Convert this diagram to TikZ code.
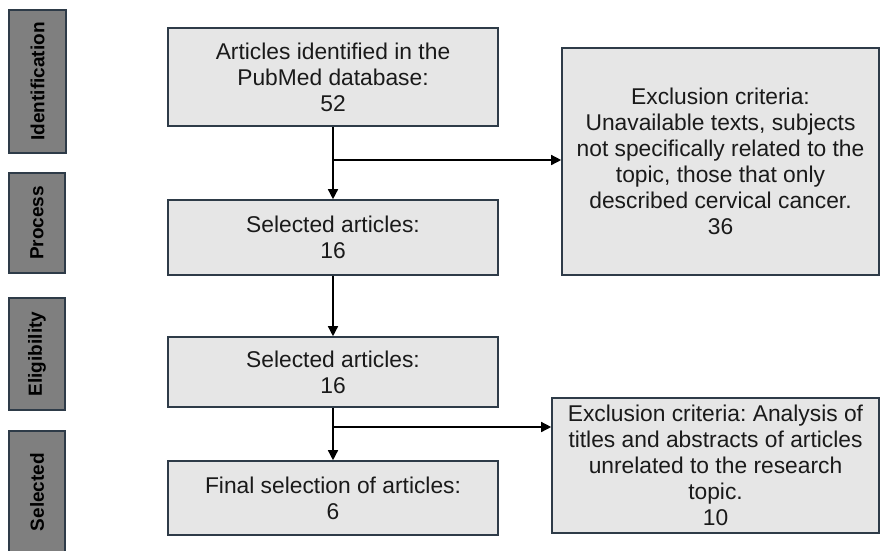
\documentclass[tikz,border=0pt]{standalone}
\usepackage{fontspec}
\setmainfont{Liberation Sans}
\usetikzlibrary{arrows.meta}
\definecolor{edge}{HTML}{2E3B48}
\definecolor{boxfill}{HTML}{E6E6E6}
\definecolor{sidefill}{HTML}{7F7F7F}
\definecolor{ink}{HTML}{1A1A1A}
\frenchspacing
\begin{document}
\begin{tikzpicture}[x=1pt,y=1pt,
  mainbox/.style={draw=edge,line width=1.6pt,fill=boxfill,text=ink,align=center,
    font=\fontsize{22.8}{26}\selectfont,inner sep=1pt},
  sidebox/.style={draw=edge,line width=1.4pt,fill=sidefill,text=black,
    font=\fontsize{19}{22}\selectfont\bfseries,rotate=90,inner sep=0pt},
  flow/.style={line width=1.4pt,draw=black,-{Triangle[length=10pt,width=10pt]}},
  plain/.style={line width=1.4pt,draw=black}]
\useasboundingbox (0,0) rectangle (880,-550);
% side labels
\node[sidebox,minimum width=143,minimum height=57] (sid) at (37.5,-81.5) {Identification};
\node[sidebox,minimum width=100,minimum height=56] (spr) at (37,-223) {Process};
\node[sidebox,minimum width=112,minimum height=56] (sel) at (37,-354) {Eligibility};
\node[sidebox,minimum width=122,minimum height=56] (sse) at (37,-492) {Selected};
% main boxes
\node[mainbox,minimum width=330,minimum height=98] (b1) at (333,-77)
  {Articles identified in the\\PubMed database:\\52};
\node[mainbox,minimum width=330,minimum height=75] (b2) at (333,-237.5)
  {Selected articles:\\16};
\node[mainbox,minimum width=330,minimum height=70] (b3) at (333,-372)
  {Selected articles:\\16};
\node[mainbox,minimum width=330,minimum height=74] (b4) at (333,-498)
  {Final selection of articles:\\6};
\node[mainbox,minimum width=317,minimum height=227] (r1) at (720.5,-161.5)
  {Exclusion criteria:\\Unavailable texts, subjects\\not specifically related to the\\topic, those that only\\described cervical cancer.\\36};
\node[mainbox,minimum width=327,minimum height=135] (r2) at (715.5,-465.5)
  {Exclusion criteria: Analysis of\\titles and abstracts of articles\\unrelated to the research\\topic.\\10};
% connectors
\coordinate (j1) at (333,-160);
\coordinate (j2) at (333,-427);
\draw[flow] (b1) -- (b2);
\draw[flow] (j1) -- (j1 -| r1.west);
\draw[flow] (b2) -- (b3);
\draw[flow] (b3) -- (b4);
\draw[flow] (j2) -- (j2 -| r2.west);
\end{tikzpicture}
\end{document}
